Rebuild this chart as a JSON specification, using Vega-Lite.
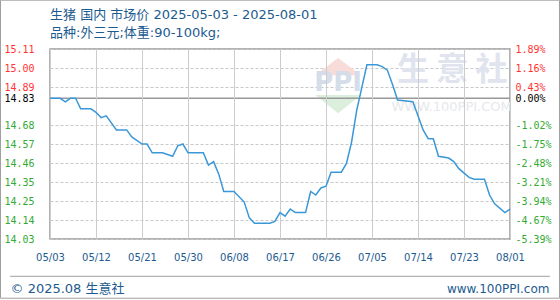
{
  "$schema": "https://vega.github.io/schema/vega-lite/v6.json",
  "width": 460,
  "height": 190,
  "autosize": {"type": "none"},
  "padding": {"left": 50, "top": 49, "right": 50, "bottom": 61},
  "background": "#ffffff",
  "title": {
    "text": "生猪 国内 市场价 2025-05-03 - 2025-08-01",
    "subtitle": "品种:外三元;体重:90-100kg;",
    "anchor": "start",
    "frame": "group",
    "font": "DejaVu Sans, Noto Sans CJK SC",
    "fontSize": 13,
    "fontWeight": "normal",
    "color": "#1c5b8f",
    "subtitleFont": "DejaVu Sans, Noto Sans CJK SC",
    "subtitleFontSize": 13,
    "subtitleColor": "#1c5b8f",
    "subtitlePadding": 5,
    "offset": -40
  },
  "config": {
    "view": {"stroke": "#9a9a9a", "strokeWidth": 1.5},
    "axis": {"labelOverlap": false, "labelBound": false, "labelFlush": false, "tickSize": 0, "domain": false}
  },
  "datasets": {
    "ticks": [
      {"tick": "2025-05-03"}, {"tick": "2025-05-12"}, {"tick": "2025-05-21"}, {"tick": "2025-05-30"},
      {"tick": "2025-06-08"}, {"tick": "2025-06-17"}, {"tick": "2025-06-26"}, {"tick": "2025-07-05"},
      {"tick": "2025-07-14"}, {"tick": "2025-07-23"}, {"tick": "2025-08-01"}
    ],
    "price": [
      {"date": "2025-05-03", "value": 14.83},
      {"date": "2025-05-05", "value": 14.83},
      {"date": "2025-05-06", "value": 14.81},
      {"date": "2025-05-07", "value": 14.83},
      {"date": "2025-05-08", "value": 14.83},
      {"date": "2025-05-09", "value": 14.77},
      {"date": "2025-05-11", "value": 14.77},
      {"date": "2025-05-12", "value": 14.75},
      {"date": "2025-05-13", "value": 14.72},
      {"date": "2025-05-14", "value": 14.73},
      {"date": "2025-05-16", "value": 14.65},
      {"date": "2025-05-18", "value": 14.65},
      {"date": "2025-05-19", "value": 14.61},
      {"date": "2025-05-21", "value": 14.57},
      {"date": "2025-05-22", "value": 14.57},
      {"date": "2025-05-23", "value": 14.52},
      {"date": "2025-05-25", "value": 14.52},
      {"date": "2025-05-27", "value": 14.50},
      {"date": "2025-05-28", "value": 14.56},
      {"date": "2025-05-29", "value": 14.57},
      {"date": "2025-05-30", "value": 14.52},
      {"date": "2025-06-02", "value": 14.52},
      {"date": "2025-06-03", "value": 14.45},
      {"date": "2025-06-04", "value": 14.47},
      {"date": "2025-06-05", "value": 14.40},
      {"date": "2025-06-06", "value": 14.30},
      {"date": "2025-06-08", "value": 14.30},
      {"date": "2025-06-10", "value": 14.24},
      {"date": "2025-06-11", "value": 14.15},
      {"date": "2025-06-12", "value": 14.12},
      {"date": "2025-06-15", "value": 14.12},
      {"date": "2025-06-16", "value": 14.13},
      {"date": "2025-06-17", "value": 14.18},
      {"date": "2025-06-18", "value": 14.16},
      {"date": "2025-06-19", "value": 14.20},
      {"date": "2025-06-20", "value": 14.18},
      {"date": "2025-06-22", "value": 14.18},
      {"date": "2025-06-23", "value": 14.30},
      {"date": "2025-06-24", "value": 14.28},
      {"date": "2025-06-25", "value": 14.32},
      {"date": "2025-06-26", "value": 14.33},
      {"date": "2025-06-27", "value": 14.41},
      {"date": "2025-06-29", "value": 14.41},
      {"date": "2025-06-30", "value": 14.46},
      {"date": "2025-07-01", "value": 14.58},
      {"date": "2025-07-02", "value": 14.76},
      {"date": "2025-07-03", "value": 14.89},
      {"date": "2025-07-04", "value": 15.02},
      {"date": "2025-07-06", "value": 15.02},
      {"date": "2025-07-07", "value": 15.01},
      {"date": "2025-07-08", "value": 14.99},
      {"date": "2025-07-09", "value": 14.91},
      {"date": "2025-07-10", "value": 14.82},
      {"date": "2025-07-13", "value": 14.81},
      {"date": "2025-07-14", "value": 14.73},
      {"date": "2025-07-15", "value": 14.65},
      {"date": "2025-07-16", "value": 14.60},
      {"date": "2025-07-17", "value": 14.60},
      {"date": "2025-07-18", "value": 14.50},
      {"date": "2025-07-20", "value": 14.49},
      {"date": "2025-07-21", "value": 14.47},
      {"date": "2025-07-22", "value": 14.43},
      {"date": "2025-07-24", "value": 14.38},
      {"date": "2025-07-25", "value": 14.37},
      {"date": "2025-07-27", "value": 14.37},
      {"date": "2025-07-28", "value": 14.28},
      {"date": "2025-07-29", "value": 14.23},
      {"date": "2025-07-31", "value": 14.18},
      {"date": "2025-08-01", "value": 14.20}
    ]
  },
  "layer": [
    {
      "data": {"values": [{}]},
      "mark": {"type": "rect", "filled": false, "fillOpacity": 0, "stroke": "#a0a0a0", "strokeWidth": 1},
      "encoding": {
        "x": {"datum": {"year": 2025, "month": 4, "date": 23, "hours": 7, "minutes": 34, "utc": true}, "type": "temporal", "scale": {"type": "utc", "domain": [{"year": 2025, "month": 5, "date": 3, "utc": true}, {"year": 2025, "month": 8, "date": 1, "utc": true}]}},
        "x2": {"datum": {"year": 2025, "month": 8, "date": 10, "hours": 16, "minutes": 26, "utc": true}},
        "y": {"datum": 15.3874, "type": "quantitative", "scale": {"domain": [14.03, 15.11], "zero": false, "nice": false}, "axis": null},
        "y2": {"datum": 13.6933}
      }
    },
    {
      "data": {"values": [{}]},
      "mark": {"type": "text", "text": "生  意  社", "font": "Noto Sans CJK SC", "fontSize": 32, "fontWeight": "bold", "color": "#dfe4ee", "baseline": "middle", "align": "center"},
      "encoding": {
        "x": {"datum": {"year": 2025, "month": 7, "date": 20, "hours": 17, "utc": true}, "type": "temporal", "scale": {"type": "utc", "domain": [{"year": 2025, "month": 5, "date": 3, "utc": true}, {"year": 2025, "month": 8, "date": 1, "utc": true}]}},
        "y": {"datum": 14.99, "type": "quantitative", "scale": {"domain": [14.03, 15.11], "zero": false, "nice": false}, "axis": null}
      }
    },
    {
      "data": {"values": [{}]},
      "mark": {"type": "text", "text": "WWW.100PPI.COM", "font": "DejaVu Sans", "fontSize": 13, "color": "#e6e8ec", "baseline": "middle", "align": "center"},
      "encoding": {
        "x": {"datum": {"year": 2025, "month": 7, "date": 20, "hours": 14, "utc": true}, "type": "temporal", "scale": {"type": "utc", "domain": [{"year": 2025, "month": 5, "date": 3, "utc": true}, {"year": 2025, "month": 8, "date": 1, "utc": true}]}},
        "y": {"datum": 14.782, "type": "quantitative", "scale": {"domain": [14.03, 15.11], "zero": false, "nice": false}, "axis": null}
      }
    },
    {
      "data": {"values": [{}]},
      "mark": {"type": "point", "shape": "M-1,0.45L1,0.45L0,-0.3Z", "size": 2100, "filled": true, "color": "#f8dcda", "opacity": 1},
      "encoding": {
        "x": {"datum": {"year": 2025, "month": 6, "date": 28, "hours": 9, "utc": true}, "type": "temporal", "scale": {"type": "utc", "domain": [{"year": 2025, "month": 5, "date": 3, "utc": true}, {"year": 2025, "month": 8, "date": 1, "utc": true}]}},
        "y": {"datum": 15.02, "type": "quantitative", "scale": {"domain": [14.03, 15.11], "zero": false, "nice": false}, "axis": null}
      }
    },
    {
      "data": {"values": [{}]},
      "mark": {"type": "point", "shape": "M-1,-0.45L1,-0.45L0,0.35Z", "size": 2100, "filled": true, "color": "#dcefdc", "opacity": 1},
      "encoding": {
        "x": {"datum": {"year": 2025, "month": 6, "date": 28, "hours": 9, "utc": true}, "type": "temporal", "scale": {"type": "utc", "domain": [{"year": 2025, "month": 5, "date": 3, "utc": true}, {"year": 2025, "month": 8, "date": 1, "utc": true}]}},
        "y": {"datum": 14.79, "type": "quantitative", "scale": {"domain": [14.03, 15.11], "zero": false, "nice": false}, "axis": null}
      }
    },
    {
      "data": {"values": [{}]},
      "mark": {"type": "text", "text": "PPI", "font": "DejaVu Sans", "fontSize": 26, "fontWeight": "bold", "color": "#d5dcea", "baseline": "middle", "align": "center"},
      "encoding": {
        "x": {"datum": {"year": 2025, "month": 6, "date": 28, "hours": 9, "utc": true}, "type": "temporal", "scale": {"type": "utc", "domain": [{"year": 2025, "month": 5, "date": 3, "utc": true}, {"year": 2025, "month": 8, "date": 1, "utc": true}]}},
        "y": {"datum": 14.915, "type": "quantitative", "scale": {"domain": [14.03, 15.11], "zero": false, "nice": false}, "axis": null}
      }
    },
    {
      "data": {"values": [{}]},
      "mark": {"type": "rule", "color": "#a0a0a0", "strokeWidth": 1},
      "encoding": {
        "x": {"datum": {"year": 2025, "month": 4, "date": 25, "hours": 4, "minutes": 10, "utc": true}, "type": "temporal", "scale": {"type": "utc", "domain": [{"year": 2025, "month": 5, "date": 3, "utc": true}, {"year": 2025, "month": 8, "date": 1, "utc": true}]}},
        "x2": {"datum": {"year": 2025, "month": 8, "date": 8, "hours": 19, "minutes": 55, "utc": true}},
        "y": {"datum": 13.818, "type": "quantitative", "scale": {"domain": [14.03, 15.11], "zero": false, "nice": false}, "axis": null}
      }
    },
    {
      "data": {"values": [{}]},
      "mark": {"type": "rule", "color": "#999999", "strokeWidth": 1.5},
      "encoding": {
        "y": {
          "datum": 14.83,
          "type": "quantitative",
          "scale": {"domain": [14.03, 15.11], "zero": false, "nice": false},
          "axis": {
            "orient": "right",
            "values": [14.03, 14.138, 14.246, 14.354, 14.462, 14.57, 14.678, 14.83, 14.894, 15.002, 15.11],
            "labelExpr": "(datum.value / 14.83 - 1 < -0.00001 ? '-' : '') + format(abs(datum.value / 14.83 - 1) * 100, '.2f') + '%'",
            "labelFont": "DejaVu Sans Mono",
            "labelFontSize": 10,
            "labelPadding": 5,
            "grid": false,
            "labelColor": {"condition": [{"test": "datum.value > 14.84", "value": "#ff3333"}, {"test": "datum.value > 14.82", "value": "#000000"}], "value": "#33aa33"},
            "title": "www.100PPI.com",
            "titleAngle": 0,
            "titleAlign": "right",
            "titleBaseline": "alphabetic",
            "titleX": 39,
            "titleY": 243,
            "titleFont": "DejaVu Sans",
            "titleFontSize": 12,
            "titleFontWeight": "normal",
            "titleColor": "#1c5b8f"
          }
        }
      }
    },
    {
      "data": {"name": "ticks"},
      "mark": {"type": "rule", "color": "#cccccc", "strokeWidth": 1, "xOffset": 0.5},
      "encoding": {
        "x": {"field": "tick", "type": "temporal", "scale": {"type": "utc", "domain": [{"year": 2025, "month": 5, "date": 3, "utc": true}, {"year": 2025, "month": 8, "date": 1, "utc": true}]}},
        "y": {"datum": 15.11, "type": "quantitative", "scale": {"domain": [14.03, 15.11], "zero": false, "nice": false}, "axis": null},
        "y2": {"datum": 14.03}
      }
    },
    {
      "data": {"name": "price"},
      "mark": {"type": "line", "color": "#3a98d8", "strokeWidth": 1.5},
      "encoding": {
        "x": {
          "field": "date",
          "type": "temporal",
          "scale": {"type": "utc", "domain": [{"year": 2025, "month": 5, "date": 3, "utc": true}, {"year": 2025, "month": 8, "date": 1, "utc": true}]},
          "axis": {
            "title": null,
            "values": [
              {"year": 2025, "month": 5, "date": 3, "utc": true},
              {"year": 2025, "month": 5, "date": 12, "utc": true},
              {"year": 2025, "month": 5, "date": 21, "utc": true},
              {"year": 2025, "month": 5, "date": 30, "utc": true},
              {"year": 2025, "month": 6, "date": 8, "utc": true},
              {"year": 2025, "month": 6, "date": 17, "utc": true},
              {"year": 2025, "month": 6, "date": 26, "utc": true},
              {"year": 2025, "month": 7, "date": 5, "utc": true},
              {"year": 2025, "month": 7, "date": 14, "utc": true},
              {"year": 2025, "month": 7, "date": 23, "utc": true},
              {"year": 2025, "month": 8, "date": 1, "utc": true}
            ],
            "format": "%m/%d",
            "grid": false,
            "labelFont": "DejaVu Sans",
            "labelFontSize": 10,
            "labelColor": "#1c5b8f",
            "labelPadding": 13
          }
        },
        "y": {
          "field": "value",
          "type": "quantitative",
          "scale": {"domain": [14.03, 15.11], "zero": false, "nice": false},
          "axis": {
            "orient": "left",
            "values": [14.03, 14.138, 14.246, 14.354, 14.462, 14.57, 14.678, 14.83, 14.894, 15.002, 15.11],
            "labelExpr": "format(datum.value, '.2f')",
            "grid": true,
            "gridColor": "#c8c8c8",
            "gridDash": [3, 2],
            "labelFont": "DejaVu Sans Mono",
            "labelFontSize": 10,
            "labelPadding": 16,
            "labelColor": {"condition": [{"test": "datum.value > 14.84", "value": "#ff3333"}, {"test": "datum.value > 14.82", "value": "#000000"}], "value": "#33aa33"},
            "title": "© 2025.08 生意社",
            "titleAngle": 0,
            "titleAlign": "left",
            "titleBaseline": "alphabetic",
            "titleX": -40,
            "titleY": 243,
            "titleFont": "DejaVu Sans, Noto Sans CJK SC",
            "titleFontSize": 13,
            "titleFontWeight": "normal",
            "titleColor": "#1c5b8f"
          }
        }
      }
    }
  ],
  "resolve": {"axis": {"y": "independent"}}
}
